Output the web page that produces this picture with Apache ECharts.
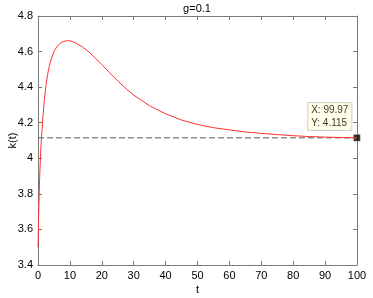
<!DOCTYPE html>
<html>
<head>
<meta charset="utf-8">
<script src="https://cdn.jsdelivr.net/npm/echarts@6/dist/echarts.min.js"></script>
<style>
html, body { margin: 0; padding: 0; background: #fff; }
#chart { width: 373px; height: 298px; }
</style>
</head>
<body>
<div id="chart"></div>
<script>
'use strict';
// k(t) path
var tValues = [0, 0.25, 0.5, 0.75, 1, 1.5, 2, 2.5, 3, 3.5, 4, 5, 6, 7, 8, 9, 10, 11, 12, 14, 16, 18, 20,
  22.5, 25, 27.5, 30, 35, 40, 45, 50, 55, 60, 65, 70, 75, 80, 85, 90, 95, 99.97];
var kValues = [3.5, 3.72, 3.88, 4.0, 4.09, 4.22, 4.33, 4.41, 4.47, 4.515, 4.55, 4.6, 4.63, 4.648, 4.657, 4.661, 4.66,
  4.655, 4.647, 4.625, 4.597, 4.563, 4.527, 4.48, 4.435, 4.393, 4.355, 4.295, 4.25, 4.215, 4.19, 4.172, 4.16, 4.148,
  4.14, 4.133, 4.127, 4.122, 4.119, 4.117, 4.115];
var steadyLevel = 4.115;
var steadyRange = [0, 100];
var tipPoint = [99.97, 4.115];
var xTicks = [0, 10, 20, 30, 40, 50, 60, 70, 80, 90, 100];
var yTicks = [3.4, 3.6, 3.8, 4, 4.2, 4.4, 4.6, 4.8];

var font = 'Liberation Sans, Arial, sans-serif';
var axisGrey = '#7a7a7a';

var curve = tValues.map(function (t, i) { return [t, kValues[i]]; });
var steady = steadyRange.map(function (t) { return [t, steadyLevel]; });

function axisBase(showLabel) {
  return {
    axisLine: { show: true, onZero: false, lineStyle: { color: axisGrey, width: 1 } },
    axisTick: { show: true, inside: true, length: 4, lineStyle: { color: axisGrey } },
    splitLine: { show: false },
    axisLabel: {
      show: showLabel, color: '#000', fontFamily: font, fontSize: 11, margin: 5,
      formatter: function (v) { return String(Math.round(v * 10) / 10); }
    }
  };
}

var chart = echarts.init(document.getElementById('chart'), null, { renderer: 'canvas' });
chart.setOption({
  backgroundColor: '#ffffff',
  animation: false,
  title: {
    text: 'g=0.1', left: 197, top: 3, padding: 0, textAlign: 'center',
    textStyle: { fontFamily: font, fontSize: 11, fontWeight: 'normal', color: '#000' }
  },
  grid: { left: 38, right: 16, top: 16, bottom: 33, containLabel: false, outerBoundsMode: 'none' },
  xAxis: [
    Object.assign(axisBase(true), {
      type: 'value', min: xTicks[0], max: xTicks[xTicks.length - 1], interval: 10,
      name: 't', nameLocation: 'middle', nameGap: 19, nameMoveOverlap: false,
      nameTextStyle: { fontFamily: font, fontSize: 11, color: '#000' }
    }),
    Object.assign(axisBase(false), {
      type: 'value', position: 'top', min: xTicks[0], max: xTicks[xTicks.length - 1], interval: 10
    })
  ],
  yAxis: [
    Object.assign(axisBase(true), {
      type: 'value', min: yTicks[0], max: yTicks[yTicks.length - 1], interval: 0.2,
      name: 'k(t)', nameLocation: 'middle', nameGap: 20, nameMoveOverlap: false,
      nameTextStyle: { fontFamily: font, fontSize: 11, color: '#000' }
    }),
    Object.assign(axisBase(false), {
      type: 'value', position: 'right', min: yTicks[0], max: yTicks[yTicks.length - 1], interval: 0.2
    })
  ],
  series: [
    {
      type: 'line', data: steady, symbol: 'none', silent: true,
      lineStyle: { color: '#5a5a5a', width: 1, type: [6, 3] }
    },
    {
      type: 'line', data: curve, symbol: 'none', smooth: false, silent: true,
      lineStyle: { color: '#ff3030', width: 1 }
    },
    {
      type: 'scatter', data: [tipPoint], symbol: 'rect', symbolSize: 7, silent: true,
      itemStyle: { color: '#000', borderColor: '#ffffe1', borderWidth: 0.5 },
      label: {
        show: true, position: [-45, -31], align: 'left', verticalAlign: 'top',
        formatter: 'X: 99.97\nY: 4.115',
        fontFamily: font, fontSize: 10, color: '#000', lineHeight: 13,
        backgroundColor: '#ffffe1', borderColor: '#c8c8c8', borderWidth: 1,
        padding: [1, 3, 0, 3]
      }
    }
  ]
});
</script>
</body>
</html>
